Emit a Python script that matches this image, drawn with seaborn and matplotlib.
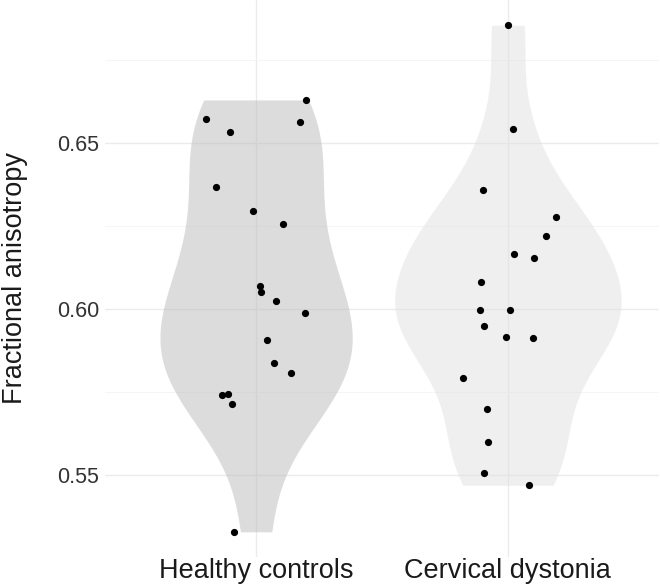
import numpy as np
import pandas as pd
import seaborn as sns
import matplotlib.pyplot as plt
from matplotlib.ticker import MultipleLocator, FixedLocator, NullLocator

# values
groups = ["Healthy controls", "Cervical dystonia"]
hc_fa = [0.6630, 0.6574, 0.6564, 0.6532, 0.6368, 0.6295, 0.6257, 0.6070, 0.6050,
         0.6023, 0.5989, 0.5906, 0.5838, 0.5806, 0.5742, 0.5744, 0.5715, 0.5329]
hc_jit = [0.197, -0.200, 0.176, -0.103, -0.159, -0.012, 0.106, 0.015, 0.021,
          0.079, 0.193, 0.045, 0.070, 0.139, -0.134, -0.110, -0.094, -0.088]
cd_fa = [0.6855, 0.6541, 0.6358, 0.6277, 0.6220, 0.6167, 0.6155, 0.6080, 0.5996,
         0.5996, 0.5949, 0.5917, 0.5913, 0.5791, 0.5698, 0.5599, 0.5507, 0.5469]
cd_jit = [-0.001, 0.019, -0.098, 0.189, 0.151, 0.025, 0.103, -0.106, -0.110,
          0.008, -0.095, -0.009, 0.100, -0.177, -0.085, -0.078, -0.094, 0.083]
y_ticks = [0.55, 0.60, 0.65]
y_ticklabels = ["0.55", "0.60", "0.65"]
fills = ["#bbbbbb", "#e1e1e1"]

df = pd.DataFrame({
    "group": [groups[0]] * len(hc_fa) + [groups[1]] * len(cd_fa),
    "fa": hc_fa + cd_fa,
    "jit": hc_jit + cd_jit,
})
df["xpos"] = df.group.map({g: i for i, g in enumerate(groups)}) + df.jit


# R's bw.nrd0, as a scipy bandwidth factor
def nrd0(kde):
    x = kde.dataset.ravel()
    sd = x.std(ddof=1)
    iqr = np.subtract(*np.percentile(x, [75, 25]))
    lo = min(sd, iqr / 1.34)
    return 0.9 * lo * len(x) ** -0.2 / sd


sns.set_theme(style="white")
plt.rcParams["font.family"] = ["Liberation Sans", "DejaVu Sans"]

fig = plt.figure(figsize=(6.6, 5.86), dpi=100)
ax = fig.add_axes([105 / 660, 29 / 586, 554 / 660, 557 / 586])

sns.violinplot(data=df, x="group", y="fa", hue="group", order=groups,
               hue_order=groups, palette=fills, saturation=1, alpha=0.5,
               linewidth=0, inner=None, cut=0, width=0.9, gridsize=512,
               bw_method=nrd0, density_norm="area", common_norm=True,
               legend=False, ax=ax)
sns.scatterplot(data=df, x="xpos", y="fa", color="black", s=27,
                linewidth=0, zorder=3, ax=ax)

ax.set_xlim(-0.6, 1.6)
ax.set_ylim(0.5253, 0.6931)
ax.yaxis.set_major_locator(FixedLocator(y_ticks))
ax.set_yticklabels(y_ticklabels)
ax.yaxis.set_minor_locator(MultipleLocator(0.025))
ax.xaxis.set_minor_locator(NullLocator())
ax.set_axisbelow(True)
ax.grid(which="major", color="#ebebeb", linewidth=1.0)
ax.grid(which="minor", axis="y", color="#f4f4f4", linewidth=0.6)
for s in ax.spines.values():
    s.set_visible(False)

ax.tick_params(axis="both", which="both", length=0)
ax.tick_params(axis="x", labelsize=19.5, pad=1, labelcolor="#1a1a1a")
ax.tick_params(axis="y", labelsize=15.5, pad=4, labelcolor="#333333")
ax.set_xlabel("")
ax.set_ylabel("Fractional anisotropy", fontsize=19.5, color="#1a1a1a")
ax.yaxis.set_label_coords(-0.139, 0.5)

fig.savefig("out.png", dpi=100)
